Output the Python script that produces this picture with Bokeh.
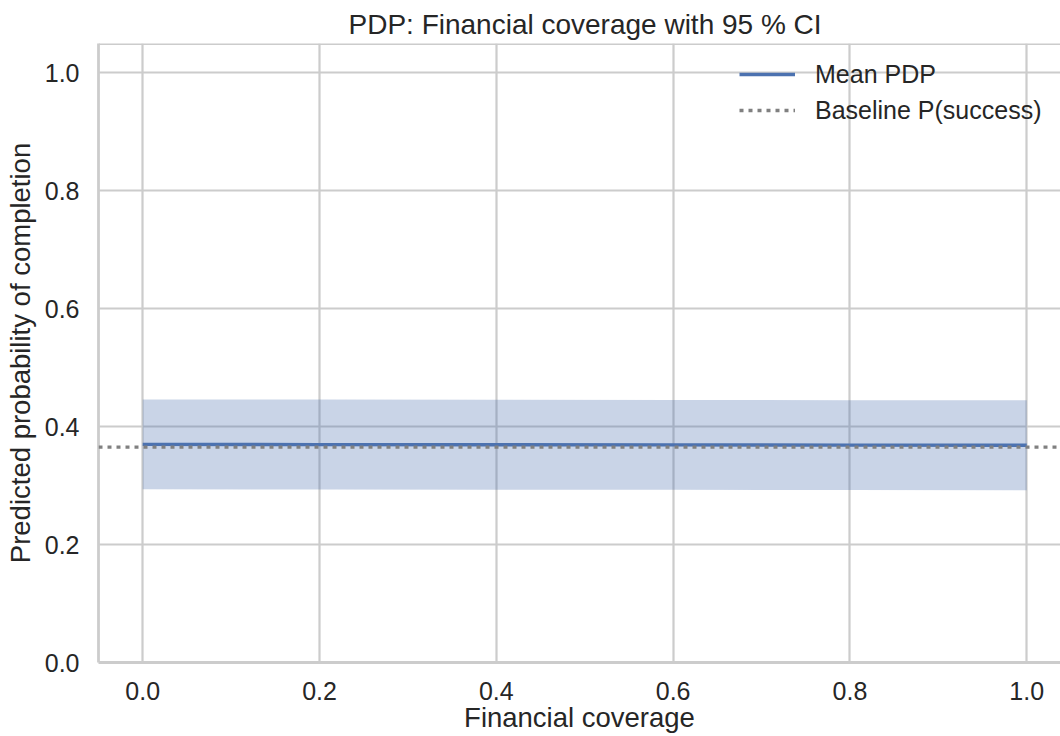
from bokeh.plotting import figure
from bokeh.models import Span, Range1d, FixedTicker, Legend, LegendItem, PrintfTickFormatter
from bokeh.embed import file_html
from bokeh.resources import INLINE

# ---- data ----
x_vals = [0.0, 0.2, 0.4, 0.6, 0.8, 1.0]
mean_pdp = [0.3700, 0.3697, 0.3694, 0.3691, 0.3688, 0.3685]
ci_lower = [0.2938, 0.2935, 0.2932, 0.2929, 0.2925, 0.2922]
ci_upper = [0.4463, 0.4460, 0.4457, 0.4453, 0.4450, 0.4447]
baseline_p = 0.3655
x_ticks = [0.0, 0.2, 0.4, 0.6, 0.8, 1.0]
y_ticks = [0.0, 0.2, 0.4, 0.6, 0.8, 1.0]

TXT = "#262626"
GRID = "#cccccc"
BLUE = "#4C72B0"
FONT = "Liberation Sans"

p = figure(width=1060, height=736,
           x_range=Range1d(-0.05, 1.0382), y_range=Range1d(0, 1.05),
           output_backend="svg", toolbar_location=None,
           min_border_left=98, min_border_right=0,
           min_border_top=43, min_border_bottom=74)

p.background_fill_color = "white"
p.border_fill_color = "white"
p.outline_line_color = None

# title
p.title.text = "PDP: Financial coverage with 95 % CI"
p.title.align = "left"
p.title.offset = 250
p.title.text_font = FONT
p.title.text_font_size = "28px"
p.title.text_font_style = "normal"
p.title.text_color = TXT
p.title.standoff = 8

# band, mean line, baseline
p.varea(x=x_vals, y1=ci_lower, y2=ci_upper, fill_color=BLUE, fill_alpha=0.3)
mean_r = p.line(x=x_vals, y=mean_pdp, line_color=BLUE, line_width=3.3)

base_span = Span(location=baseline_p, dimension="width", line_color="#808080",
                 line_width=3.3, line_dash="4 5")
p.add_layout(base_span)
dummy = p.line(x=[x_vals[0]], y=[baseline_p], line_color="#808080",
               line_width=3.3, line_dash="4 5")

# top border
top_span = Span(location=1.05, dimension="width", line_color=GRID, line_width=2.8)
p.add_layout(top_span)

# axes
for ax in (p.xaxis[0], p.yaxis[0]):
    ax.axis_line_color = GRID
    ax.axis_line_width = 2.8
    ax.major_tick_line_color = None
    ax.minor_tick_line_color = None
    ax.major_tick_out = 0
    ax.major_tick_in = 0
    ax.minor_tick_out = 0
    ax.minor_tick_in = 0
    ax.major_label_text_font = FONT
    ax.major_label_text_font_size = "25px"
    ax.major_label_text_color = TXT
    ax.axis_label_text_font = FONT
    ax.axis_label_text_font_size = "27.5px"
    ax.axis_label_text_font_style = "normal"
    ax.axis_label_text_color = TXT
    ax.formatter = PrintfTickFormatter(format="%.1f")

p.xaxis[0].ticker = FixedTicker(ticks=x_ticks)
p.yaxis[0].ticker = FixedTicker(ticks=y_ticks)
p.xaxis[0].axis_label = "Financial coverage"
p.yaxis[0].axis_label = "Predicted probability of completion"
p.xaxis[0].major_label_standoff = 19
p.xaxis[0].axis_label_standoff = -1
p.yaxis[0].major_label_standoff = 19
p.yaxis[0].axis_label_standoff = 6

p.xgrid[0].ticker = FixedTicker(ticks=x_ticks)
p.ygrid[0].ticker = FixedTicker(ticks=y_ticks)
for g in (p.xgrid[0], p.ygrid[0]):
    g.grid_line_color = GRID
    g.grid_line_width = 2.2

legend = Legend(items=[LegendItem(label="Mean PDP", renderers=[mean_r]),
                       LegendItem(label="Baseline P(success)", renderers=[dummy])],
                location=(641, 534))
legend.background_fill_alpha = 0
legend.border_line_color = None
legend.padding = 0
legend.margin = 0
legend.spacing = 0
legend.glyph_width = 56
legend.glyph_height = 36
legend.label_height = 36
legend.label_standoff = 20
legend.label_text_font = FONT
legend.label_text_font_size = "25px"
legend.label_text_color = TXT
p.add_layout(legend)

open("out.html", "w").write(file_html(p, INLINE))
